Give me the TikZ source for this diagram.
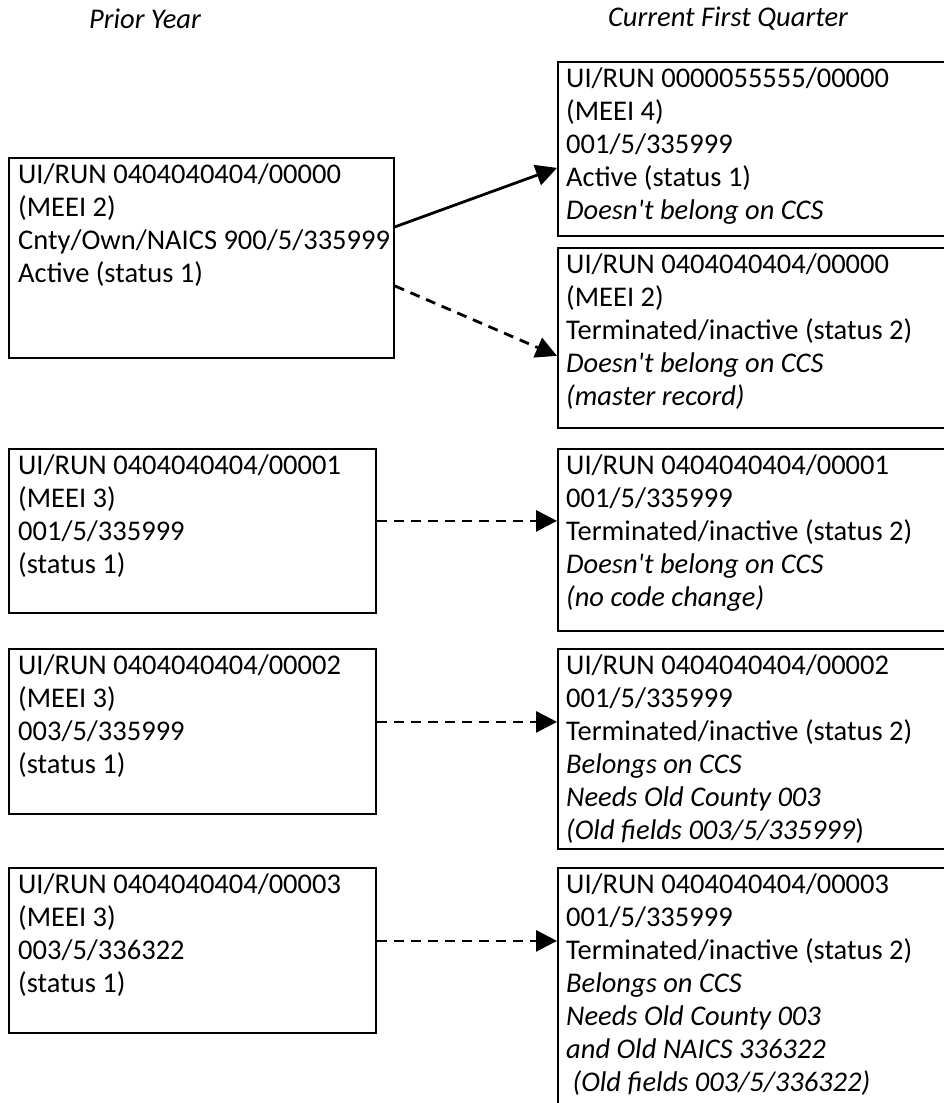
\documentclass[tikz,border=0pt]{standalone}
\usepackage{fontspec}
\setmainfont{Carlito}
\usetikzlibrary{arrows.meta,calc}
\tikzset{
  rec/.style={draw, line width=1.8pt, anchor=north west, inner sep=0pt},
  txt/.style={anchor=north west, inner sep=0pt, align=left, font=\fontsize{28.5}{33}\selectfont},
  hdr/.style={anchor=base, inner sep=0pt, font=\fontsize{28.5}{33}\selectfont\itshape},
  solidarrow/.style={line width=2.8pt, -{Triangle[length=21pt,width=21pt]}},
  dasharrow/.style={line width=2.8pt, dash pattern=on 10pt off 7pt, -{Triangle[length=21pt,width=21pt]}}
}
\newcommand{\fl}{\rule{0pt}{22pt}}
\newcommand{\ap}{\textquotesingle}
\begin{document}
\begin{tikzpicture}[x=1pt,y=-1pt]
\useasboundingbox (0,0) rectangle (944,1103);
\clip (0,0) rectangle (944,1103);
\fill[white] (0,0) rectangle (944,1103);

% headers
\node[hdr] (hprior) at (145,28) {Prior Year};
\node[hdr] (hcur) at (728,26) {Current First Quarter};

% left boxes
\node[rec, minimum width=385pt, minimum height=200pt] (L1) at (8,157) {};
\node[rec, minimum width=367pt, minimum height=164pt] (L2) at (8,448) {};
\node[rec, minimum width=367pt, minimum height=165pt] (L3) at (8,648) {};
\node[rec, minimum width=367pt, minimum height=165pt] (L4) at (8,867) {};

% right boxes
\node[rec, minimum width=392pt, minimum height=174pt] (R1) at (557,61) {};
\node[rec, minimum width=392pt, minimum height=180pt] (R2) at (557,247) {};
\node[rec, minimum width=392pt, minimum height=182pt] (R3) at (557,448) {};
\node[rec, minimum width=392pt, minimum height=200pt] (R4) at (557,648) {};
\node[rec, minimum width=392pt, minimum height=260pt] (R5) at (557,867) {};

% texts
\node[txt] (L1t) at ([xshift=10pt,yshift=-4pt]L1.north west) {\fl UI/RUN 0404040404/00000\\(MEEI 2)\\Cnty/Own/NAICS 900/5/335999\\Active (status 1)};
\node[txt] (L2t) at ([xshift=10pt,yshift=-4pt]L2.north west) {\fl UI/RUN 0404040404/00001\\(MEEI 3)\\001/5/335999\\(status 1)};
\node[txt] (L3t) at ([xshift=10pt,yshift=-4pt]L3.north west) {\fl UI/RUN 0404040404/00002\\(MEEI 3)\\003/5/335999\\(status 1)};
\node[txt] (L4t) at ([xshift=10pt,yshift=-4pt]L4.north west) {\fl UI/RUN 0404040404/00003\\(MEEI 3)\\003/5/336322\\(status 1)};

\node[txt] (R1t) at ([xshift=9pt,yshift=-4pt]R1.north west) {\fl UI/RUN 0000055555/00000\\(MEEI 4)\\001/5/335999\\Active (status 1)\\\textit{Doesn\ap t belong on CCS}};
\node[txt] (R2t) at ([xshift=9pt,yshift=-4pt]R2.north west) {\fl UI/RUN 0404040404/00000\\(MEEI 2)\\Terminated/inactive (status 2)\\\textit{Doesn\ap t belong on CCS}\\\textit{(master record)}};
\node[txt] (R3t) at ([xshift=9pt,yshift=-4pt]R3.north west) {\fl UI/RUN 0404040404/00001\\001/5/335999\\Terminated/inactive (status 2)\\\textit{Doesn\ap t belong on CCS}\\\textit{(no code change)}};
\node[txt] (R4t) at ([xshift=9pt,yshift=-4pt]R4.north west) {\fl UI/RUN 0404040404/00002\\001/5/335999\\Terminated/inactive (status 2)\\\textit{Belongs on CCS}\\\textit{Needs Old County 003}\\\textit{(Old fields 003/5/335999}{\upshape )}};
\node[txt] (R5t) at ([xshift=9pt,yshift=-4pt]R5.north west) {\fl UI/RUN 0404040404/00003\\001/5/335999\\Terminated/inactive (status 2)\\\textit{Belongs on CCS}\\\textit{Needs Old County 003}\\\textit{and Old NAICS 336322}\\\textit{\ (Old fields 003/5/336322)}};

% connectors
\draw[solidarrow] ([yshift=31pt]L1.east) -- ([yshift=-19pt]R1.west);
\draw[dasharrow] ([yshift=-28pt]L1.east) -- ([yshift=-18pt]R2.west);
\draw[dasharrow] ([yshift=10pt]L2.east) -- ([yshift=10pt]L2.east -| R3.west);
\draw[dasharrow] ([yshift=9.5pt]L3.east) -- ([yshift=9.5pt]L3.east -| R4.west);
\draw[dasharrow] ([yshift=9.5pt]L4.east) -- ([yshift=9.5pt]L4.east -| R5.west);
\end{tikzpicture}
\end{document}
